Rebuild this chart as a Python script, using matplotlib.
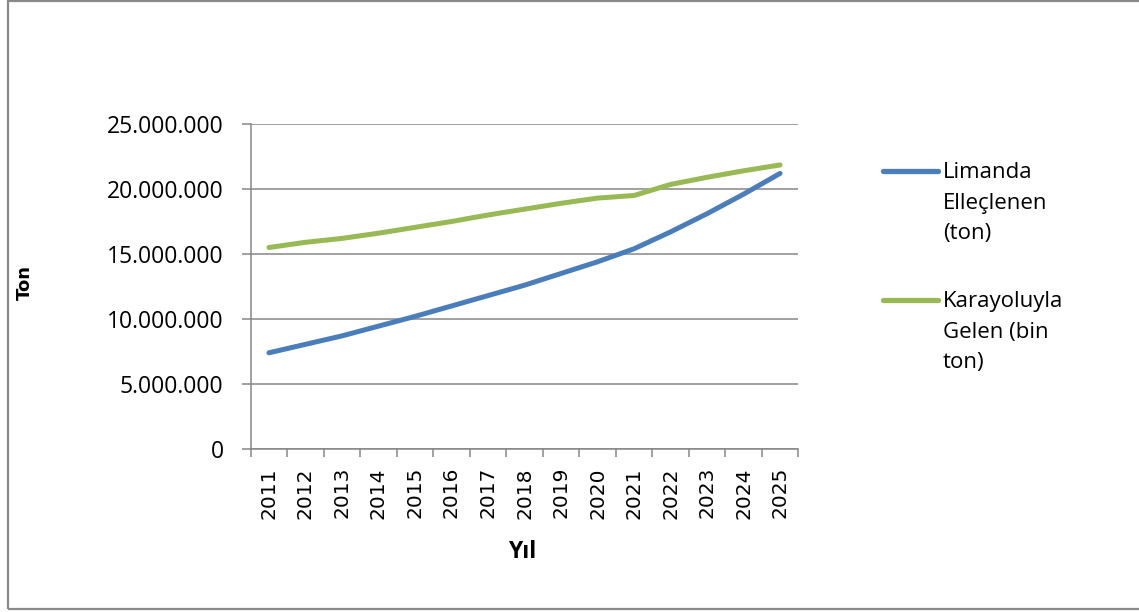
import numpy as np
import matplotlib
matplotlib.use('Agg')
import matplotlib.pyplot as plt
from matplotlib.lines import Line2D
from matplotlib.patches import Rectangle
from matplotlib.ticker import FuncFormatter, FixedLocator

years = ['2011', '2012', '2013', '2014', '2015', '2016', '2017', '2018',
         '2019', '2020', '2021', '2022', '2023', '2024', '2025']

limanda = [7.40, 8.05, 8.70, 9.45, 10.20, 11.00, 11.80, 12.60,
           13.50, 14.40, 15.40, 16.70, 18.10, 19.60, 21.20]
karayolu = [15.50, 15.90, 16.20, 16.60, 17.05, 17.50, 18.00, 18.45,
            18.90, 19.30, 19.50, 20.35, 20.90, 21.40, 21.85]

series_names = ['Limanda\nElleçlenen\n(ton)', 'Karayoluyla\nGelen (bin\nton)']
colors = ['#4A7EBB', '#98B954']

grey = '#868686'

fig = plt.figure(figsize=(11.39, 6.12), dpi=100)
ax = fig.add_axes([250.7 / 1139, 1 - 449 / 612, (798.3 - 250.7) / 1139, (449 - 124) / 612])

x = np.arange(len(years))
for vals, c in zip([limanda, karayolu], colors):
    ax.plot(x, np.array(vals) * 1e6, color=c, lw=3.6, solid_capstyle='round',
            solid_joinstyle='round')

ax.set_xlim(-0.5, len(years) - 0.5)
ax.set_ylim(0, 25e6)
ax.set_yticks(np.arange(0, 25e6 + 1, 5e6))
ax.yaxis.set_major_formatter(FuncFormatter(lambda v, p: '{:,.0f}'.format(v).replace(',', '.')))
ax.grid(axis='y', color=grey, lw=1.1)
ax.set_axisbelow(True)

ax.set_xticks(x)
ax.set_xticklabels(years, rotation=90, fontsize=14.5, family='DejaVu Sans')
ax.xaxis.set_minor_locator(FixedLocator(np.arange(-0.5, len(years), 1.0)))
ax.tick_params(axis='x', which='major', length=0, pad=13)
ax.tick_params(axis='x', which='minor', length=6, color=grey, width=1.1)
ax.tick_params(axis='y', length=6.5, color=grey, width=1.1, pad=13)
for lab in ax.get_yticklabels():
    lab.set_family('Open Sans')
    lab.set_fontsize(16.5)

for s in ['top', 'right']:
    ax.spines[s].set_visible(False)
for s in ['left', 'bottom']:
    ax.spines[s].set_color(grey)
    ax.spines[s].set_linewidth(1.1)

ax.set_ylabel('Ton', fontsize=13, fontweight='bold', family='DejaVu Sans', va='center')
ax.yaxis.set_label_coords(-(250.7 - 25) / (798.3 - 250.7), (449 - 283) / (449 - 124))
ax.set_xlabel('Yıl', fontsize=16.5, fontweight='bold', family='Open Sans', va='center')
ax.xaxis.set_label_coords((522 - 250.7) / (798.3 - 250.7), -(552 - 449) / (449 - 124))

# legend drawn by hand: line sample beside the first text line
for i, (name, c) in enumerate(zip(series_names, colors)):
    ly = 171 + i * 129
    fig.add_artist(Line2D([883 / 1139, 938 / 1139], [1 - ly / 612, 1 - ly / 612],
                          color=c, lw=3.8, solid_capstyle='round'))
    fig.text(943 / 1139, 1 - (ly - 9) / 612, name, fontsize=16, family='Open Sans',
             va='top', ha='left', linespacing=1.6)

fig.add_artist(Rectangle((7.5 / 1139, 3.5 / 612), 1.0, (612 - 4.5) / 612,
                         transform=fig.transFigure, fill=False, ec='#898989', lw=1.6))

fig.savefig('out.png', dpi=100)
